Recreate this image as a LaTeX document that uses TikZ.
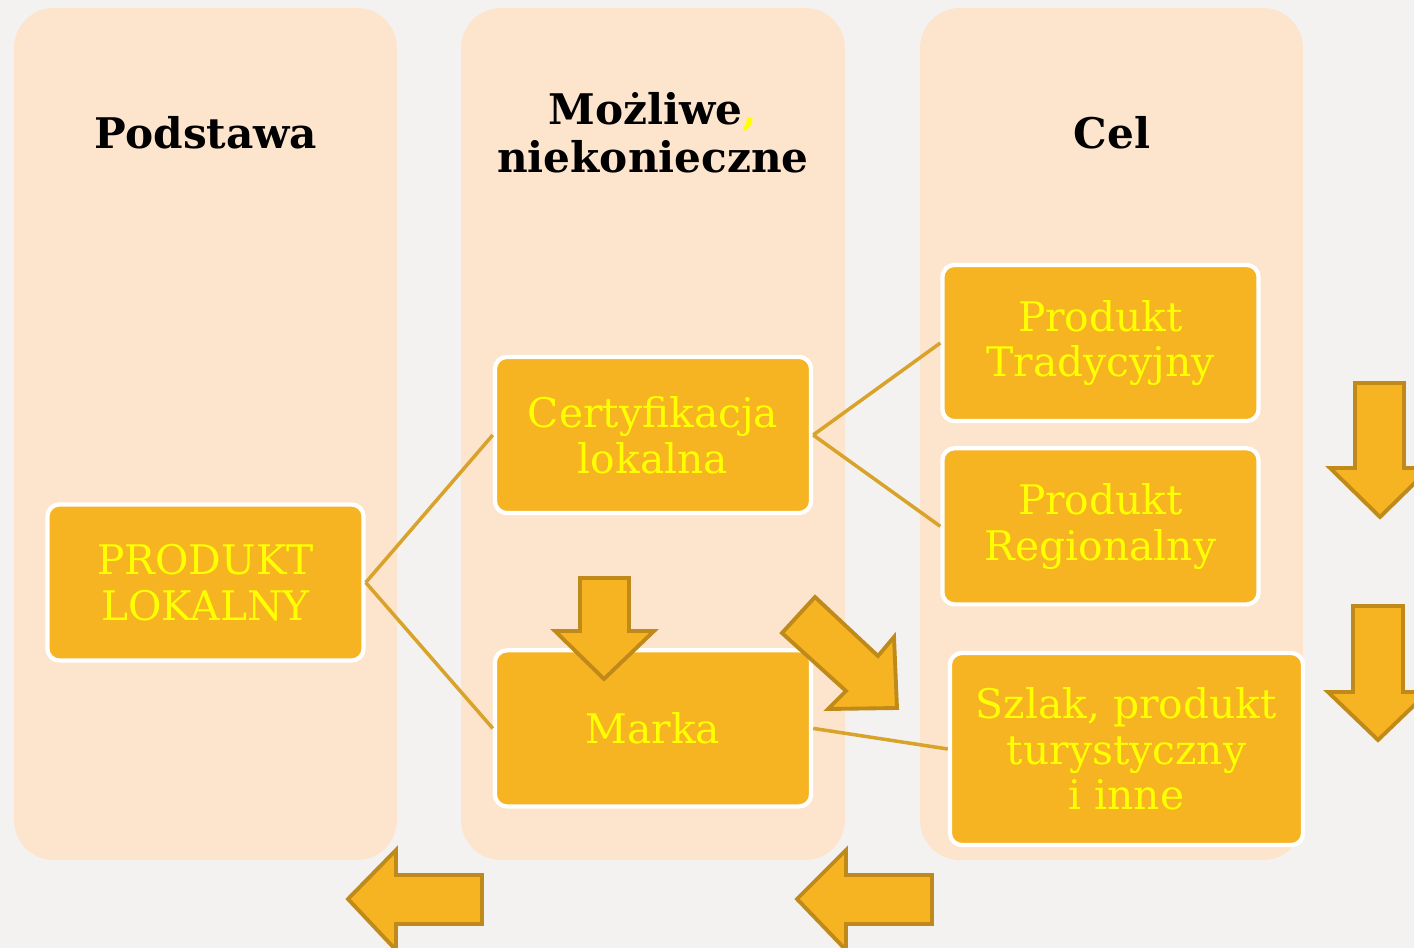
\documentclass[tikz,border=0pt]{standalone}
\usepackage{fontspec}
\setmainfont{DejaVu Serif}
\usepackage{tikz}
\usetikzlibrary{positioning}
\definecolor{fond}{HTML}{F3F2F0}
\definecolor{peche}{HTML}{FDE5CD}
\definecolor{orbox}{HTML}{F6B322}
\definecolor{orline}{HTML}{D9A22A}
\definecolor{orbord}{HTML}{C08A1A}
\definecolor{jaune}{HTML}{FFFF00}
\tikzset{
	colonne/.style = {fill=peche, rounded corners=0.4cm},% colonne de fond
	titre/.style = {align=center, text=black,
		font=\bfseries\fontsize{12}{13.5}\selectfont},% titre de colonne
	boite/.style = {rectangle, rounded corners=0.12cm, fill=orbox, draw=white,
		line width=1.2pt, text=jaune, align=center, inner sep=0pt,
		minimum width=3.16cm, minimum height=1.56cm,
		font=\fontsize{11.6}{13}\selectfont},% boite jaune
	lien/.style = {draw=orline, line width=1pt},% trait entre boites
	fleche/.style = {fill=orbox, draw=orbord, line width=1.1pt}% grosse fleche
}

\begin{document}
\begin{tikzpicture}[x=0.01cm, y=-0.01cm]
\clip (0,0) rectangle (1414,948);
\fill[fond] (0,0) rectangle (1414,948);
% colonnes
\fill[colonne] (14,8) rectangle (397,860);
\fill[colonne] (461,8) rectangle (845,860);
\fill[colonne] (920,8) rectangle (1303,860);
% titres
\node[titre] (t_base) at (206,133) {Podstawa};
\node[titre] (t_opt) at (653,133) {Możliwe{\color{jaune},}\\niekonieczne};
\node[titre] (t_cel) at (1112,133) {Cel};
% boites
\node[boite] (lok) at (205.5,582.5) {PRODUKT\\LOKALNY};
\node[boite] (cert) at (653,435) {Certyfikacja\\lokalna};
\node[boite, below=1.33cm of cert] (marka) {Marka};
\node[boite] (trad) at (1100.5,343) {Produkt\\Tradycyjny};
\node[boite, below=0.23cm of trad] (regio) {Produkt\\Regionalny};
\node[boite, minimum width=3.53cm, minimum height=1.92cm] (szlak) at (1126.5,749)
	{Szlak, produkt\\turystyczny\\i inne};
% traits
\draw[lien] (lok.east) -- (cert.west);
\draw[lien] (lok.east) -- (marka.west);
\draw[lien] (cert.east) -- (trad.west);
\draw[lien] (cert.east) -- (regio.west);
\draw[lien] (marka.east) -- (szlak.west);
% fleches
\draw[fleche] (580,578) -- (629,578) -- (629,631) -- (654,631) -- (604,679)
	-- (555,631) -- (580,631) -- cycle;
\draw[fleche] (815,597) -- (878,656) -- (894,637) -- (897,708) -- (828,709)
	-- (846,691) -- (782,633) -- cycle;
\draw[fleche] (1355,383) -- (1404,383) -- (1404,468) -- (1430,468) -- (1380,517)
	-- (1330,468) -- (1355,468) -- cycle;
\draw[fleche] (1353,606) -- (1403,606) -- (1403,692) -- (1428,692) -- (1378,740)
	-- (1328,692) -- (1353,692) -- cycle;
\draw[fleche] (482,875) -- (396,875) -- (396,850) -- (348,899) -- (396,950)
	-- (396,924) -- (482,924) -- cycle;
\draw[fleche] (932,875) -- (846,875) -- (846,850) -- (797,899) -- (846,950)
	-- (846,924) -- (932,924) -- cycle;
\end{tikzpicture}
\end{document}
